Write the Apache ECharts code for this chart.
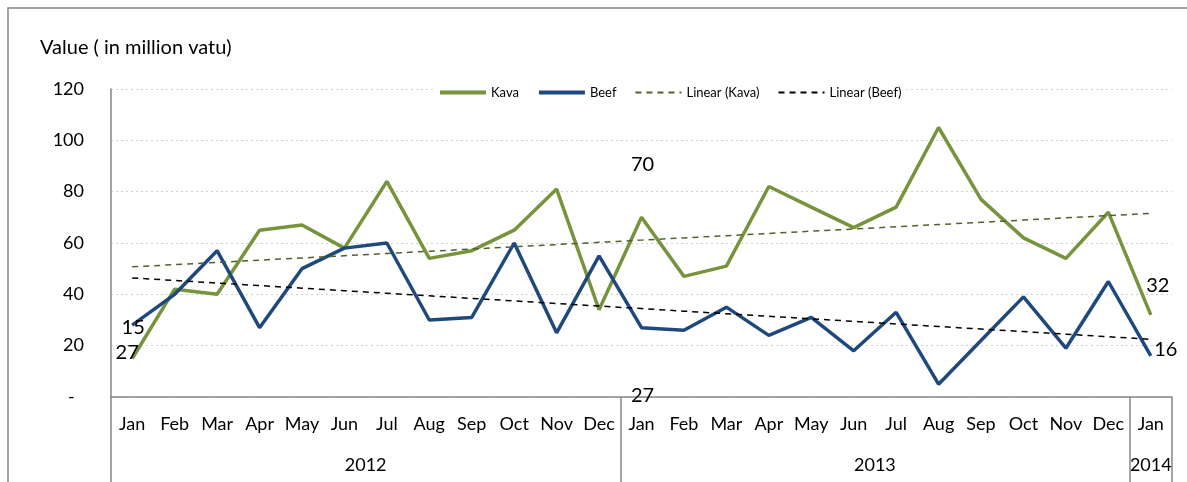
<!DOCTYPE html>
<html>
<head>
<meta charset="utf-8">
<script src="https://cdn.jsdelivr.net/npm/echarts@6/dist/echarts.min.js"></script>
<style>
  html, body { margin: 0; padding: 0; background: #fff; }
  #chart { width: 1187px; height: 482px; }
</style>
</head>
<body>
<div id="chart"></div>
<script>
// months Jan 2012 .. Jan 2014
const months = ['Jan', 'Feb', 'Mar', 'Apr', 'May', 'Jun', 'Jul', 'Aug', 'Sep', 'Oct', 'Nov', 'Dec',
  'Jan', 'Feb', 'Mar', 'Apr', 'May', 'Jun', 'Jul', 'Aug', 'Sep', 'Oct', 'Nov', 'Dec', 'Jan'];
const years = ['2012', '2013', '2014'];
const yearSizes = [12, 12, 1];

const kava = [15, 42, 40, 65, 67, 58, 84, 54, 57, 65, 81, 34,
  70, 47, 51, 82, 74, 66, 74, 105, 77, 62, 54, 72, 32];
const beef = [28, 40, 57, 27, 50, 58, 60, 30, 31, 60, 25, 55,
  27, 26, 35, 24, 31, 18, 33, 5, 22, 39, 19, 45, 16];

// data labels as shown in the original (index -> text)
const kavaLabels = { 0: '27', 12: '70', 24: '32' };
const beefLabels = { 0: '15', 12: '27', 24: '16' };

const yTicks = [0, 20, 40, 60, 80, 100, 120];

// least squares trend line, like Excel's "Linear" trendline
function linearFit(arr) {
  const n = arr.length;
  let sx = 0, sy = 0, sxy = 0, sxx = 0;
  arr.forEach((v, i) => { sx += i; sy += v; sxy += i * v; sxx += i * i; });
  const b = (n * sxy - sx * sy) / (n * sxx - sx * sx);
  const a = (sy - b * sx) / n;
  return arr.map((v, i) => +(a + b * i).toFixed(3));
}

const labelOffsets = {
  kava: { 0: [-5, -6], 12: [1, -53], 24: [7, -29] },
  beef: { 0: [1, 2], 12: [1, 68], 24: [15, -6] }
};

function withLabels(arr, labels, offsets) {
  return arr.map((v, i) => {
    if (labels[i] === undefined) return v;
    return {
      value: v,
      label: {
        show: true,
        position: 'inside',
        offset: offsets[i],
        formatter: labels[i],
        color: '#000',
        fontSize: 20,
        fontFamily: 'Lato'
      }
    };
  });
}

// year centers on the 0..25 scale of the second x axis
let acc = 0;
const yearCenters = [], yearBounds = [0];
yearSizes.forEach(s => { yearCenters.push(acc + s / 2); acc += s; yearBounds.push(acc); });

const axisGray = '#868686';
const font = 'Lato';

const chart = echarts.init(document.getElementById('chart'));
chart.setOption({
  animation: false,
  textStyle: { fontFamily: font },
  title: {
    text: 'Value ( in million vatu)',
    left: 35,
    top: 33,
    textStyle: { fontSize: 20, fontWeight: 'normal', color: '#000', fontFamily: font }
  },
  graphic: [{
    type: 'rect',
    shape: { x: 8, y: 8, width: 1200, height: 500 },
    style: { fill: null, stroke: axisGray, lineWidth: 1.5 },
    silent: true,
    z: -10
  }],
  legend: {
    left: 433,
    top: 83,
    backgroundColor: '#fff',
    padding: [3, 5],
    itemGap: 18,
    itemWidth: 46,
    itemHeight: 12,
    itemStyle: { opacity: 0 },
    textStyle: { fontSize: 13, color: '#000', fontFamily: font },
    data: [
      { name: 'Kava', lineStyle: { width: 4 } },
      { name: 'Beef', lineStyle: { width: 4 } },
      'Linear (Kava)',
      'Linear (Beef)'
    ]
  },
  grid: { left: 111, right: 15, top: 89, bottom: 85 },
  xAxis: [{
    type: 'category',
    data: months,
    boundaryGap: true,
    axisLine: { lineStyle: { color: axisGray, width: 1.5 } },
    axisTick: { show: false },
    axisLabel: { interval: 0, margin: 18, fontSize: 18, color: '#000', fontFamily: font }
  }, {
    type: 'value',
    position: 'bottom',
    min: 0,
    max: 25,
    axisLine: { show: false },
    splitLine: { show: false },
    axisTick: {
      show: true,
      customValues: yearBounds,
      length: 90,
      lineStyle: { color: axisGray, width: 1.5 }
    },
    axisLabel: {
      customValues: yearCenters,
      margin: 59,
      fontSize: 18,
      color: '#000',
      fontFamily: font,
      formatter: v => years[yearCenters.indexOf(v)]
    }
  }],
  yAxis: {
    type: 'value',
    min: 0,
    max: 120,
    interval: 20,
    axisLine: { show: true, lineStyle: { color: axisGray, width: 1.5 } },
    axisTick: { show: false },
    axisLabel: {
      margin: 27,
      fontSize: 18,
      color: '#000',
      fontFamily: font,
      formatter: v => (v === yTicks[0] ? '-  ' : v)
    },
    splitLine: { lineStyle: { color: '#cfcfcf', type: [2, 3], width: 1 } }
  },
  series: [
    {
      name: 'Kava',
      type: 'line',
      data: withLabels(kava, kavaLabels, labelOffsets.kava),
      symbol: 'circle',
      symbolSize: 0.01,
      showSymbol: true,
      color: '#77933C',
      lineStyle: { color: '#77933C', width: 3.5 },
      z: 3
    },
    {
      name: 'Beef',
      type: 'line',
      data: withLabels(beef, beefLabels, labelOffsets.beef),
      symbol: 'circle',
      symbolSize: 0.01,
      showSymbol: true,
      color: '#1F497D',
      lineStyle: { color: '#1F497D', width: 3.5 },
      z: 4
    },
    {
      name: 'Linear (Kava)',
      type: 'line',
      data: linearFit(kava),
      symbol: 'none',
      color: '#4F6228',
      lineStyle: { color: '#4F6228', width: 1.5, type: [6, 5] },
      z: 5
    },
    {
      name: 'Linear (Beef)',
      type: 'line',
      data: linearFit(beef),
      symbol: 'none',
      color: '#000',
      lineStyle: { color: '#000', width: 1.5, type: [6, 5] },
      z: 5
    }
  ]
});
</script>
</body>
</html>
